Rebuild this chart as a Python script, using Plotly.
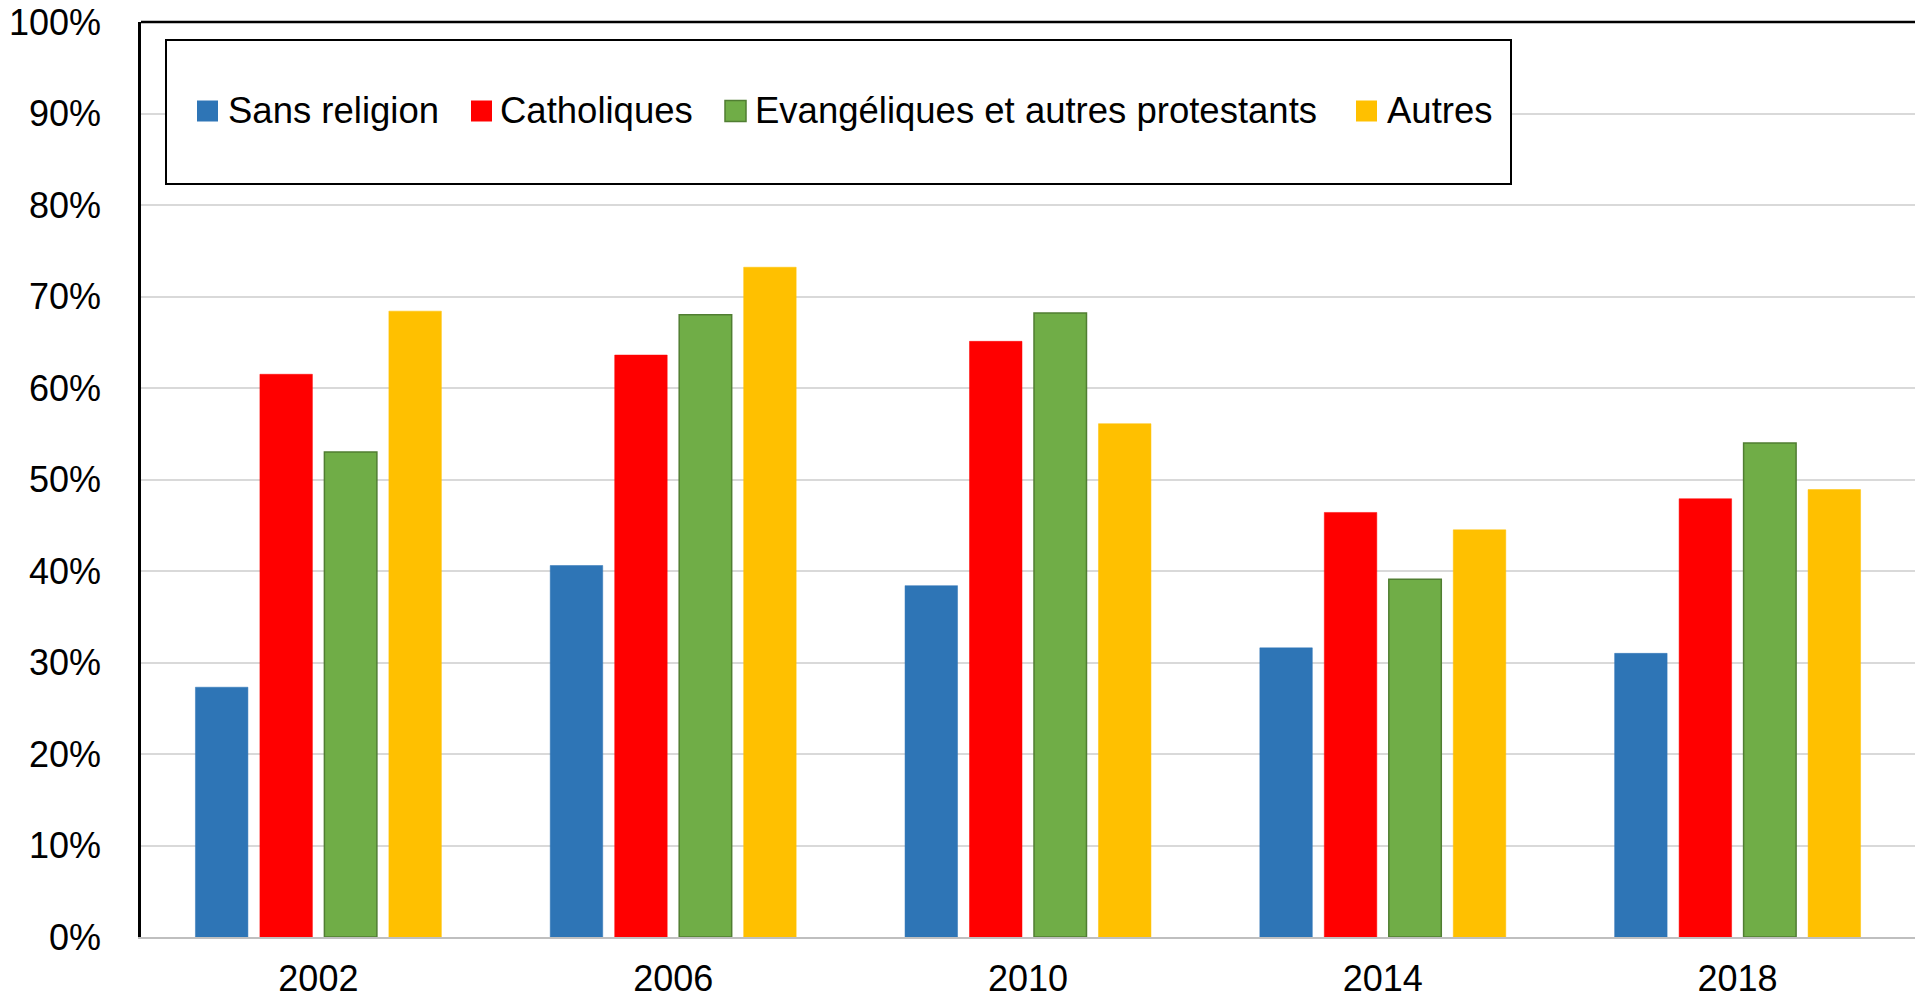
import plotly.graph_objects as go

# Survey years and share per religious group (%)
years = ["2002", "2006", "2010", "2014", "2018"]
series_names = ["Sans religion", "Catholiques", "Evangéliques et autres protestants", "Autres"]
sans_religion = [27.3, 40.6, 38.4, 31.6, 31.0]
catholiques = [61.5, 63.6, 65.1, 46.4, 47.9]
evangeliques = [53.0, 68.0, 68.2, 39.1, 54.0]
autres = [68.4, 73.2, 56.1, 44.5, 48.9]
y_ticks = list(range(0, 101, 10))
y_tick_labels = [f"{v}%" for v in y_ticks]

colors = ["#2E75B6", "#FF0000", "#70AD47", "#FFC000"]
outlines = ["#2E75B6", "#FF0000", "#507E32", "#FFC000"]
outline_w = [0.5, 0.5, 1.5, 0.5]

W, H = 1915, 1000
L, R, T, B = 141, 0, 22, 63
FONT = "Arial, Liberation Sans, sans-serif"


def px2x(px):
    return (px - L) / (W - L - R)


def px2y(py):
    return (H - B - py) / (H - T - B)


fig = go.Figure()
for name, vals, c, oc, ow in zip(series_names,
                                 [sans_religion, catholiques, evangeliques, autres],
                                 colors, outlines, outline_w):
    fig.add_trace(go.Bar(x=years, y=vals, name=name,
                         marker=dict(color=c, line=dict(color=oc, width=ow)),
                         showlegend=False))

shapes = [
    # black frame on top of the plot area
    dict(type="line", xref="paper", yref="paper", x0=0, x1=1, y0=1, y1=1,
         line=dict(color="black", width=2.5)),
    # legend box
    dict(type="rect", xref="paper", yref="paper",
         x0=px2x(166), x1=px2x(1511), y0=px2y(184), y1=px2y(40),
         line=dict(color="black", width=2), fillcolor="white", layer="above"),
]
annotations = []
legend_sq = [197, 471, 725, 1356]
legend_txt = [226, 498, 753, 1385]
sq = 21
y_mid = 111
for i, name in enumerate(series_names):
    shapes.append(dict(type="rect", xref="paper", yref="paper",
                       x0=px2x(legend_sq[i]), x1=px2x(legend_sq[i] + sq),
                       y0=px2y(y_mid + sq / 2), y1=px2y(y_mid - sq / 2),
                       line=dict(color=outlines[i], width=1.5 if i == 2 else 0),
                       fillcolor=colors[i], layer="above"))
    annotations.append(dict(xref="paper", yref="paper", x=px2x(legend_txt[i]),
                            y=px2y(y_mid), text=name, showarrow=False,
                            xanchor="left", yanchor="middle",
                            font=dict(family=FONT, size=36.5, color="black")))

fig.update_layout(
    width=W, height=H,
    margin=dict(l=L, r=R, t=T, b=B, pad=0, autoexpand=False),
    paper_bgcolor="white", plot_bgcolor="white",
    barmode="group", bargap=0.273, bargroupgap=0.186,
    font=dict(family=FONT, color="black"),
    shapes=shapes, annotations=annotations,
    xaxis=dict(showline=True, linecolor="#BFBFBF", linewidth=2, ticks="",
               tickfont=dict(size=36, family=FONT), ticklabelstandoff=9,
               showgrid=False, automargin=False),
    yaxis=dict(range=[0, 100], tickvals=y_ticks, ticktext=y_tick_labels,
               showline=True, linecolor="black", linewidth=2.5, ticks="",
               showgrid=True, gridcolor="#D9D9D9", gridwidth=2,
               zeroline=False, tickfont=dict(size=36, family=FONT),
               ticklabelstandoff=30, automargin=False),
)

fig.write_html("out.html")
